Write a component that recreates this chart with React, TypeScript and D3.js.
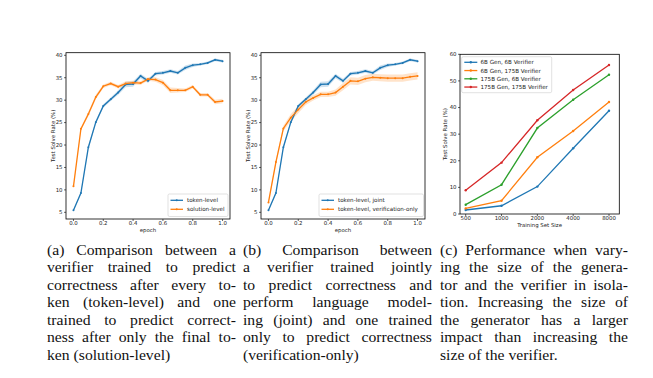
import React from 'react';
import * as d3 from 'd3';

const epochs = [0, 0.05, 0.1, 0.15, 0.2, 0.25, 0.3, 0.35, 0.4, 0.45, 0.5, 0.55, 0.6, 0.65, 0.7, 0.75, 0.8, 0.85, 0.9, 0.95, 1.0];
const tokenLevel = [5.45, 9.3, 19.5, 25.1, 28.7, 30.2, 31.7, 33.5, 33.6, 35.4, 34.3, 35.9, 36.1, 36.5, 36.1, 37.2, 37.8, 38.0, 38.3, 39.0, 38.7];
const tokenLevelErr = [0.2, 0.3, 0.4, 0.4, 0.4, 0.4, 0.5, 0.6, 0.6, 0.5, 0.5, 0.4, 0.4, 0.4, 0.4, 0.5, 0.4, 0.3, 0.3, 0.3, 0.3];
const solutionLevel = [10.8, 23.6, 26.9, 30.7, 33.1, 33.7, 33.0, 33.7, 33.9, 33.8, 34.7, 34.6, 33.9, 32.2, 32.2, 32.2, 33.0, 31.2, 31.2, 29.6, 29.8];
const solutionLevelErr = [0.2, 0.3, 0.5, 0.5, 0.4, 0.4, 0.4, 0.5, 0.4, 0.4, 0.4, 0.5, 0.6, 0.6, 0.5, 0.4, 0.4, 0.4, 0.4, 0.5, 0.5];
const verificationOnly = [7.2, 16.2, 23.7, 26.1, 27.9, 29.6, 30.5, 31.3, 31.3, 31.7, 33.0, 34.3, 34.2, 34.8, 35.1, 35.0, 34.9, 34.9, 34.9, 35.2, 35.4];
const verificationOnlyErr = [0.3, 0.5, 0.6, 0.8, 0.8, 0.7, 0.6, 0.6, 0.6, 0.7, 0.8, 0.8, 0.8, 0.8, 0.8, 0.8, 0.8, 0.8, 0.8, 0.8, 0.8];

const trainSizes = [500, 1000, 2000, 4000, 8000];
const gen6ver6 = [1.5, 3.1, 10.3, 24.7, 38.8];
const gen6ver175 = [2.1, 5.0, 21.3, 31.2, 42.1];
const gen175ver6 = [3.5, 11.0, 32.3, 42.9, 52.3];
const gen175ver175 = [8.9, 19.3, 35.2, 46.6, 56.0];
const cLabels = ['6B Gen, 6B Verifier', '6B Gen, 175B Verifier', '175B Gen, 6B Verifier', '175B Gen, 175B Verifier'];

const epochTicks = [0.0, 0.2, 0.4, 0.6, 0.8, 1.0];
const rateTicks = [5, 10, 15, 20, 25, 30, 35, 40];
const cRateTicks = [0, 10, 20, 30, 40, 50, 60];

const captionA = [
  '(a) Comparison between a',
  'verifier trained to predict',
  'correctness after every to-',
  'ken (token-level) and one',
  'trained to predict correct-',
  'ness after only the final to-',
  'ken (solution-level)',
];
const captionB = [
  '(b) Comparison between',
  'a verifier trained jointly',
  'to predict correctness and',
  'perform language model-',
  'ing (joint) and one trained',
  'only to predict correctness',
  '(verification-only)',
];
const captionC = [
  '(c) Performance when vary-',
  'ing the size of the genera-',
  'tor and the verifier in isola-',
  'tion. Increasing the size of',
  'the generator has a larger',
  'impact than increasing the',
  'size of the verifier.',
];

const BLUE = '#1f77b4';
const ORANGE = '#ff7f0e';
const GREEN = '#2ca02c';
const RED = '#d62728';
const AXF = 'DejaVu Sans, sans-serif';
const CAPF = "'Liberation Serif', serif";
const CAPSIZE = 14.6;
const CAPSTRETCH = 1.075;

let ctx: CanvasRenderingContext2D | null = null;
function measure(s: string, font: string) {
  if (!ctx) ctx = document.createElement('canvas').getContext('2d');
  ctx!.font = font;
  return ctx!.measureText(s).width;
}

function Caption({ lines, x0, x1, y0 }: { lines: string[]; x0: number; x1: number; y0: number }) {
  const font = `${CAPSIZE}px ${CAPF}`;
  const lh = 17.5;
  return (
    <g fontFamily={CAPF} fontSize={CAPSIZE} fill="#111">
      {lines.map((line, i) => {
        const words = line.split(' ');
        const y = y0 + i * lh;
        const last = i === lines.length - 1;
        const widths = words.map((w) => measure(w, font) * CAPSTRETCH);
        const total = widths.reduce((a, b) => a + b, 0);
        const space = measure(' ', font) * CAPSTRETCH;
        const gap = last || words.length < 2 ? space : (x1 - x0 - total) / (words.length - 1);
        let x = x0;
        return words.map((w, j) => {
          const el = (
            <text key={`${i}-${j}`} transform={`translate(${x},${y}) scale(${CAPSTRETCH},1)`}>
              {w}
            </text>
          );
          x += widths[j] + gap;
          return el;
        });
      })}
    </g>
  );
}

type Series = { ys: number[]; err: number[]; color: string; label: string };

function EpochPanel({ left, series, legendX, legendW, yLabelX }: { left: number; series: Series[]; legendX: number; legendW: number; yLabelX: number }) {
  const x0 = left, x1 = left + 164, yTop = 52.7, yBot = 219;
  const x = d3.scaleLinear().domain([-0.05, 1.05]).range([x0, x1]);
  const y = d3.scaleLinear().domain([3.51, 40.58]).range([yBot, yTop]);
  const line = d3.line<number>().x((_, i) => x(epochs[i])).y((d) => y(d));
  const area = (s: Series) =>
    d3.area<number>().x((_, i) => x(epochs[i])).y0((d, i) => y(d - s.err[i])).y1((d, i) => y(d + s.err[i]))(s.ys) || '';
  return (
    <g>
      {series.map((s) => (
        <path key={s.label + 'a'} d={area(s)} fill={s.color} fillOpacity={0.22} stroke="none" />
      ))}
      {series.map((s) => (
        <g key={s.label}>
          <path d={line(s.ys) || ''} fill="none" stroke={s.color} strokeWidth={1.3} />
          {s.ys.map((d, i) => (
            <circle key={i} cx={x(epochs[i])} cy={y(d)} r={1.0} fill={s.color} />
          ))}
        </g>
      ))}
      <rect x={x0} y={yTop} width={x1 - x0} height={yBot - yTop} fill="none" stroke="#000" strokeWidth={0.8} />
      {rateTicks.map((t) => (
        <g key={t}>
          <line x1={x0 - 2} x2={x0} y1={y(t)} y2={y(t)} stroke="#000" strokeWidth={0.6} />
          <text x={x0 - 3.5} y={y(t)} dy="0.35em" textAnchor="end" fontSize={5.4} fontFamily={AXF} fill="#222">{t}</text>
        </g>
      ))}
      {epochTicks.map((t) => (
        <g key={t}>
          <line x1={x(t)} x2={x(t)} y1={yBot} y2={yBot + 2} stroke="#000" strokeWidth={0.6} />
          <text x={x(t)} y={yBot + 4} dy="0.35em" textAnchor="middle" fontSize={5.4} fontFamily={AXF} fill="#222">{t.toFixed(1)}</text>
        </g>
      ))}
      <text x={(x0 + x1) / 2} y={231.5} textAnchor="middle" fontSize={5.4} fontFamily={AXF} fill="#222">epoch</text>
      <text transform={`translate(${yLabelX},${(yTop + yBot) / 2}) rotate(-90)`} textAnchor="middle" dy="0.35em" fontSize={5.4} fontFamily={AXF} fill="#222">Test Solve Rate (%)</text>
      <rect x={legendX} y={194} width={legendW} height={22.5} rx={1.5} fill="#fff" fillOpacity={0.8} stroke="#ccc" strokeWidth={0.6} />
      {series.map((s, i) => (
        <g key={s.label + 'l'}>
          <line x1={legendX + 2.5} x2={legendX + 15} y1={200.3 + i * 9} y2={200.3 + i * 9} stroke={s.color} strokeWidth={1.3} />
          <circle cx={legendX + 8.75} cy={200.3 + i * 9} r={1.0} fill={s.color} />
          <text x={legendX + 19} y={200.3 + i * 9} dy="0.35em" fontSize={5.6} fontFamily={AXF} fill="#222">{s.label}</text>
        </g>
      ))}
    </g>
  );
}

function SizePanel() {
  const x0 = 460, x1 = 619.3, yTop = 54.3, yBot = 214;
  const x = d3.scaleLog().base(2).domain([500, 8000]).range([465.7, 609]);
  const y = d3.scaleLinear().domain([0, 60]).range([yBot, yTop]);
  const data = [gen6ver6, gen6ver175, gen175ver6, gen175ver175];
  const colors = [BLUE, ORANGE, GREEN, RED];
  const line = d3.line<number>().x((_, i) => x(trainSizes[i])).y((d) => y(d));
  return (
    <g>
      {data.map((ys, k) => (
        <g key={k}>
          <path d={line(ys) || ''} fill="none" stroke={colors[k]} strokeWidth={1.3} />
          {ys.map((d, i) => (
            <circle key={i} cx={x(trainSizes[i])} cy={y(d)} r={1.2} fill={colors[k]} />
          ))}
        </g>
      ))}
      <rect x={x0} y={yTop} width={x1 - x0} height={yBot - yTop} fill="none" stroke="#000" strokeWidth={0.8} />
      {cRateTicks.map((t) => (
        <g key={t}>
          <line x1={x0 - 2} x2={x0} y1={y(t)} y2={y(t)} stroke="#000" strokeWidth={0.6} />
          <text x={x0 - 3.5} y={y(t)} dy="0.35em" textAnchor="end" fontSize={5.4} fontFamily={AXF} fill="#222">{t}</text>
        </g>
      ))}
      {trainSizes.map((t) => (
        <g key={t}>
          <line x1={x(t)} x2={x(t)} y1={yBot} y2={yBot + 2} stroke="#000" strokeWidth={0.6} />
          <text x={x(t)} y={yBot + 4.5} dy="0.35em" textAnchor="middle" fontSize={5.4} fontFamily={AXF} fill="#222">{t}</text>
        </g>
      ))}
      <text x={(x0 + x1) / 2} y={227.3} textAnchor="middle" fontSize={5.4} fontFamily={AXF} fill="#222">Training Set Size</text>
      <text transform={`translate(445,${(yTop + yBot) / 2}) rotate(-90)`} textAnchor="middle" dy="0.35em" fontSize={5.4} fontFamily={AXF} fill="#222">Test Solve Rate (%)</text>
      <rect x={461.7} y={56.7} width={90} height={36} rx={1.5} fill="#fff" fillOpacity={0.8} stroke="#ccc" strokeWidth={0.6} />
      {cLabels.map((lab, i) => {
        const yy = 62.3 + i * 8.25;
        return (
          <g key={lab}>
            <line x1={464.3} x2={477.3} y1={yy} y2={yy} stroke={colors[i]} strokeWidth={1.3} />
            <circle cx={470.8} cy={yy} r={1.2} fill={colors[i]} />
            <text x={480.5} y={yy} dy="0.35em" fontSize={5.6} fontFamily={AXF} fill="#222">{lab}</text>
          </g>
        );
      })}
    </g>
  );
}

export default function App() {
  return (
    <svg width={653} height={378} style={{ position: 'absolute', left: 0, top: 0, background: '#fff' }}>
      <rect width={653} height={378} fill="#fff" />
      <EpochPanel
        left={66}
        yLabelX={52.7}
        legendX={168}
        legendW={60}
        series={[
          { ys: tokenLevel, err: tokenLevelErr, color: BLUE, label: 'token-level' },
          { ys: solutionLevel, err: solutionLevelErr, color: ORANGE, label: 'solution-level' },
        ]}
      />
      <EpochPanel
        left={261}
        yLabelX={247.7}
        legendX={319}
        legendW={104.5}
        series={[
          { ys: tokenLevel, err: tokenLevelErr, color: BLUE, label: 'token-level, joint' },
          { ys: verificationOnly, err: verificationOnlyErr, color: ORANGE, label: 'token-level, verification-only' },
        ]}
      />
      <SizePanel />
      <Caption lines={captionA} x0={47} x1={236} y0={254.5} />
      <Caption lines={captionB} x0={243} x1={432} y0={254.5} />
      <Caption lines={captionC} x0={440} x1={628} y0={254.5} />
    </svg>
  );
}
